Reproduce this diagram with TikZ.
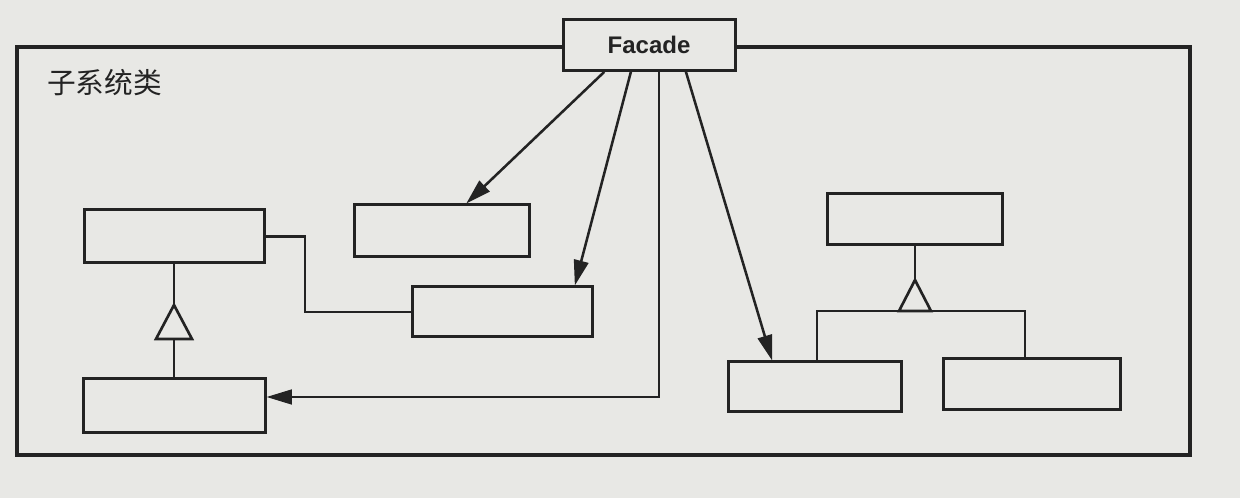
\documentclass[tikz,border=0pt]{standalone}
\usepackage{fontspec}
\setsansfont{Liberation Sans}
\newfontfamily\cjk{Noto Sans CJK SC}
\usetikzlibrary{arrows.meta}

\definecolor{paper}{RGB}{232,232,229}
\definecolor{ink}{RGB}{35,35,35}

\tikzset{
  cls/.style={draw=ink, line width=2.25pt, fill=paper, minimum width=132pt, minimum height=39pt, inner sep=0pt},
  assoc/.style={draw=ink, line width=1.9pt, -{Triangle[length=19pt,width=11pt]}},
  inherit/.style={draw=ink, line width=2pt}
}

\begin{document}
\begin{tikzpicture}[x=0.75pt,y=0.75pt,yscale=-1,xscale=1]
%set diagram size 1240 x 498
\useasboundingbox [fill=paper] (0,0) rectangle (1240,498);

%Shape: Rectangle [subsystem frame]
\draw [draw=ink, line width=2.5pt] (17,47) rectangle (1190,455);

% Text Node
\node [anchor=north west, inner sep=0pt, text=ink, font=\cjk\fontsize{21.5}{25}\selectfont] (title) at (47,69) {子系统类};

%Classes
\node [cls, minimum width=129pt, minimum height=38pt, font=\sffamily\bfseries\fontsize{18}{22}\selectfont, text=ink] (facade) at (649,45) {Facade};
\node [cls, minimum width=135pt, minimum height=39.75pt] (acls) at (174,236.5) {};
\node [cls, minimum width=136.5pt, minimum height=40.5pt] (bcls) at (174,406) {};
\node [cls, minimum width=131.25pt] (ccls) at (441.5,231) {};
\node [cls, minimum width=135pt, minimum height=37.5pt] (dcls) at (502,312) {};
\node [cls, minimum width=131.25pt, minimum height=38.25pt] (ecls) at (915,219.5) {};
\node [cls, minimum width=129.75pt, minimum height=37.5pt] (fcls) at (814.5,387) {};
\node [cls, minimum width=132.75pt, minimum height=38.25pt] (gcls) at (1031.5,384.5) {};

%Facade arrows
\draw [assoc] (facade.211) -- (ccls.48);
\draw [assoc] (facade.236) -- (dcls.20);
\coordinate (lowrun) at (0,397);
\draw [assoc] (facade.290) |- (bcls.east |- lowrun);
\draw [assoc] (facade.324) -- (fcls.148);

%Association A - D
\coordinate (elbow) at (305,0);
\draw [inherit] (acls.east) -| (elbow |- dcls.west) -- (dcls.west);

%Generalization left
\coordinate (tipl) at (174,305);
\coordinate (basel) at (174,339);
\draw [inherit] (acls.south) -- (tipl);
\draw [inherit] (tipl) -- ([xshift=-13.5pt]basel) -- ([xshift=13.5pt]basel) -- cycle;
\draw [inherit] (bcls.north) -- (basel);

%Generalization right
\coordinate (tipr) at (915,280);
\coordinate (baser) at (915,311);
\coordinate (barl) at (817,311);
\coordinate (barr) at (1025,311);
\draw [inherit] (ecls.south) -- (tipr);
\draw [inherit] (tipr) -- ([xshift=-12pt]baser) -- ([xshift=12pt]baser) -- cycle;
\draw [inherit] (fcls.north -| barl) -- (barl) -- (barr) -- (gcls.north -| barr);

\end{tikzpicture}
\end{document}
